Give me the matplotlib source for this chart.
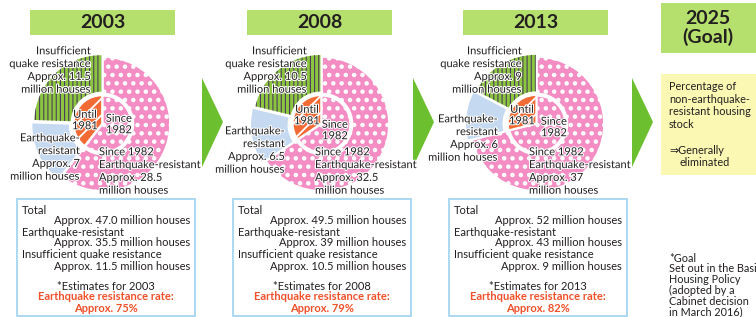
import matplotlib
matplotlib.use('Agg')
import matplotlib.pyplot as plt
from matplotlib.patches import Rectangle, Polygon
import matplotlib.patheffects as pe

plt.rcParams['font.family'] = ['Lato', 'DejaVu Sans']

W, H = 756, 317

years = ['2003', '2008', '2013']
since1982 = [28.5, 32.5, 37]
old_resistant = [7, 6.5, 6]
insufficient = [11.5, 10.5, 9]
totals = ['47.0', '49.5', '52']
rates = [75, 79, 82]

# layout (pixels from top-left)
pie_cx = [103, 322, 537]
pie_cy = 124
R_OUT, R_IN, R_CORE = 67, 30.5, 28
title_x = [30, 247, 463]
box_x = [17, 233, 449]
arrow_x = [202, 413, 632]
ins_lab = [(91, 70), (307, 70), (522, 70)]
old_lab = [(80, 157), (285, 150), (498, 138)]
until_lab = [(85, 120), (307, 115), (522, 115)]
since_lab = [(119, 124), (335, 130), (554, 127)]
new_lab = [(99, 171), (315, 171), (529, 171)]

PINK = '#f48dc3'
BLUE = '#c5d9f0'
GREEN = '#8cc63f'
ORANGE = '#f26b35'
TITLE_G = '#b5e06d'
ARROW_G = '#6cbf2e'
TXT = '#231f20'
RED = '#f0502a'
BORDER = '#9dd3f0'

fig = plt.figure(figsize=(W / 100, H / 100), dpi=100)
ax = fig.add_axes([0, 0, 1, 1])


def Y(y):
    return H - y


def hlw(patch, v):
    if hasattr(patch, 'set_hatch_linewidth'):
        patch.set_hatch_linewidth(v)


def fmt(v):
    return '%g' % v


stroke = [pe.withStroke(linewidth=1.5, foreground='white')]

for i, yr in enumerate(years):
    cx, cy = pie_cx[i], Y(pie_cy)

    # outer ring: insufficient / old but resistant / since 1982
    wedges, _ = ax.pie([insufficient[i], old_resistant[i], since1982[i]],
                       startangle=90, counterclock=True, radius=R_OUT,
                       center=(cx, cy), colors=[GREEN, BLUE, PINK],
                       explode=[2.5, 4, 0], frame=True,
                       wedgeprops=dict(width=R_OUT - R_IN, linewidth=0))
    wedges[0].set_hatch('||||')
    wedges[0].set_edgecolor('#4b3d5e')
    wedges[0].set_linewidth(0)
    hlw(wedges[0], 0.8)
    wedges[2].set_hatch('..')
    wedges[2].set_edgecolor('white')
    wedges[2].set_linewidth(1.2)
    hlw(wedges[2], 2.0)

    # inner pie: until 1981 / since 1982
    old_total = insufficient[i] + old_resistant[i]
    inner, _ = ax.pie([old_total, since1982[i]], startangle=90,
                      counterclock=True, radius=R_CORE, center=(cx, cy),
                      colors=[ORANGE, PINK], explode=[1.2, 0], frame=True,
                      wedgeprops=dict(linewidth=1, edgecolor='white'))
    inner[0].set_hatch('//')
    hlw(inner[0], 1.3)
    inner[1].set_hatch('..')
    hlw(inner[1], 2.0)

    # pie labels
    x, y = ins_lab[i]
    ax.text(x, Y(y), 'Insufficient\nquake resistance\nApprox. %s\nmillion houses' % fmt(insufficient[i]),
            ha='right', va='center', multialignment='right', fontsize=8,
            color=TXT, linespacing=1.2, path_effects=stroke)
    x, y = old_lab[i]
    ax.text(x, Y(y), 'Earthquake-\nresistant\nApprox. %s\nmillion houses' % fmt(old_resistant[i]),
            ha='right', va='center', multialignment='right', fontsize=8,
            color=TXT, linespacing=1.2, path_effects=stroke)
    x, y = until_lab[i]
    ax.text(x, Y(y), 'Until\n1981', ha='center', va='center', fontsize=8,
            color=TXT, linespacing=1.05, path_effects=stroke)
    x, y = since_lab[i]
    ax.text(x, Y(y), 'Since\n1982', ha='center', va='center', fontsize=8,
            color=TXT, linespacing=1.05, path_effects=stroke)
    x, y = new_lab[i]
    ax.text(x, Y(y), 'Since 1982\nEarthquake-resistant\nApprox. %s\nmillion houses' % fmt(since1982[i]),
            ha='left', va='center', multialignment='left', fontsize=8,
            color=TXT, linespacing=1.2, path_effects=stroke)

    # title box
    tx = title_x[i]
    ax.add_patch(Rectangle((tx, Y(35)), 145, 25, color=TITLE_G, lw=0))
    ax.text(tx + 72.5, Y(22.5), yr, ha='center', va='center', fontsize=14,
            fontweight='bold', color=TXT)

    # summary box
    bx = box_x[i]
    bw = 178
    ax.add_patch(Rectangle((bx, Y(316)), bw, 117, facecolor='white',
                           edgecolor=BORDER, lw=1.2))
    resistant = since1982[i] + old_resistant[i]
    lines = [('Total', 'l', 210),
             ('Approx. %s million houses' % totals[i], 'r', 221),
             ('Earthquake-resistant', 'l', 232),
             ('Approx. %s million houses' % fmt(resistant), 'r', 243),
             ('Insufficient quake resistance', 'l', 255),
             ('Approx. %s million houses' % fmt(insufficient[i]), 'r', 266)]
    for s, al, yy in lines:
        if al == 'l':
            ax.text(bx + 5, Y(yy), s, ha='left', va='center', fontsize=8, color=TXT)
        else:
            ax.text(bx + bw - 5, Y(yy), s, ha='right', va='center', fontsize=8, color=TXT)
    ax.text(bx + bw / 2, Y(286), '*Estimates for %s' % yr, ha='center',
            va='center', fontsize=8, color=TXT)
    ax.text(bx + bw / 2, Y(297), 'Earthquake resistance rate:', ha='center',
            va='center', fontsize=8, fontweight='bold', color=RED)
    ax.text(bx + bw / 2, Y(308.5), 'Approx. %d%%' % rates[i], ha='center',
            va='center', fontsize=8, fontweight='bold', color=RED)

    # arrow
    axx = arrow_x[i]
    ax.add_patch(Polygon([(axx, Y(78)), (axx + 21, Y(122)), (axx, Y(167))],
                         closed=True, color=ARROW_G, lw=0))

# 2025 goal panel
ax.add_patch(Rectangle((661, Y(53)), 120, 50, color=TITLE_G, lw=0))
ax.text(708, Y(28), '2025\n(Goal)', ha='center', va='center', fontsize=14,
        fontweight='bold', color=TXT, linespacing=1.0)
ax.add_patch(Rectangle((661, Y(175)), 120, 101, color='#fbf8b4', lw=0))
panel = ['Percentage of', 'non-earthquake-', 'resistant housing', 'stock']
for k, s in enumerate(panel):
    ax.text(669, Y(87 + 12.4 * k), s, ha='left', va='center', fontsize=7.8, color=TXT)
ax.text(669, Y(150), '\u21d2Generally', ha='left', va='center', fontsize=7.8, color=TXT)
ax.text(680, Y(163), 'eliminated', ha='left', va='center', fontsize=7.8, color=TXT)
note = ['*Goal', 'Set out in the Basic', 'Housing Policy', '(adopted by a',
        'Cabinet decision', 'in March 2016)']
for k, s in enumerate(note):
    ax.text(669, Y(258 + 10.8 * k), s, ha='left', va='center', fontsize=7.8, color=TXT)

ax.set_xlim(0, W)
ax.set_ylim(0, H)
ax.set_aspect('auto')
ax.axis('off')

fig.savefig('out.png', dpi=100)
